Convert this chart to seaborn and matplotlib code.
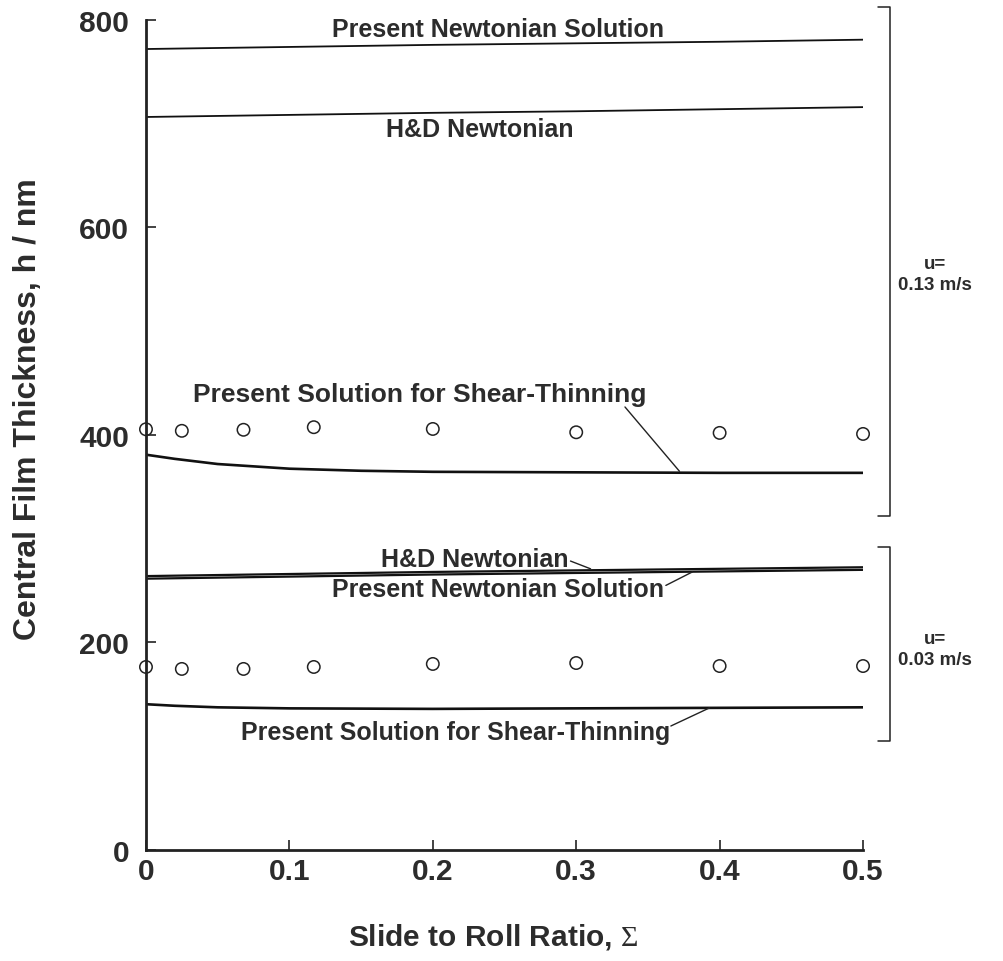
import numpy as np
import pandas as pd
import matplotlib
matplotlib.use("Agg")
import matplotlib.pyplot as plt
import matplotlib.transforms as mtransforms
import seaborn as sns

# ---------------- data ----------------
newt_x = [0.0, 0.1, 0.2, 0.3, 0.4, 0.5]
# u = 0.13 m/s
present_newt_hi = [772, 774, 776, 777.5, 779, 781]
hd_newt_hi = [706.5, 708.5, 710.5, 712, 714, 716]
# u = 0.03 m/s
hd_newt_lo = [264, 266, 268, 269.5, 271, 272.5]
present_newt_lo = [261.5, 263.5, 265.5, 267, 268.5, 270]

shear_hi_x = [0.0, 0.02, 0.05, 0.1, 0.15, 0.2, 0.3, 0.4, 0.5]
shear_hi_y = [381, 377, 372, 367.5, 365.5, 364.5, 364, 363.5, 363.5]
shear_lo_x = [0.0, 0.02, 0.05, 0.1, 0.2, 0.3, 0.4, 0.5]
shear_lo_y = [140.5, 139, 137.5, 136.5, 136, 136.5, 137, 137.5]

exp_x = [0.0, 0.025, 0.068, 0.117, 0.2, 0.3, 0.4, 0.5]
exp_hi = [405.5, 404, 405, 407.5, 405.8, 402.6, 402, 401]
exp_lo = [176.4, 174.5, 174.5, 176.4, 179.3, 180.2, 177.3, 177.3]

x_ticks = [0, 0.1, 0.2, 0.3, 0.4, 0.5]
x_tick_labels = ["0", "0.1", "0.2", "0.3", "0.4", "0.5"]
y_ticks = [0, 200, 400, 600, 800]
y_tick_labels = ["0", "200", "400", "600", "800"]

# ---------------- styling ----------------
sns.set_style("ticks")
plt.rcParams["font.family"] = ["Liberation Sans", "DejaVu Sans"]
plt.rcParams["font.weight"] = "bold"
plt.rcParams["mathtext.fontset"] = "custom"
plt.rcParams["mathtext.rm"] = "Liberation Serif:weight=normal"
plt.rcParams["mathtext.default"] = "rm"

TXT = "#2c2c2c"

fig = plt.figure(figsize=(10.04, 9.62), dpi=100)
ax = fig.add_axes([0.1454, 0.1154, 0.7142, 0.8628])

def line(x, y, lw=1.3):
    df = pd.DataFrame({"x": x, "y": y})
    sns.lineplot(data=df, x="x", y="y", ax=ax, color="#111111", lw=lw,
                 estimator=None, sort=False)

line(newt_x, present_newt_hi, 1.3)
line(newt_x, hd_newt_hi, 1.3)
line(newt_x, hd_newt_lo, 1.6)
line(newt_x, present_newt_lo, 1.6)
line(shear_hi_x, shear_hi_y, 1.9)
line(shear_lo_x, shear_lo_y, 1.9)

for yy in (exp_hi, exp_lo):
    df = pd.DataFrame({"x": exp_x, "y": yy})
    sns.scatterplot(data=df, x="x", y="y", ax=ax, marker="o", s=80,
                    facecolor="none", edgecolor="#222222", linewidth=1.1,
                    clip_on=False, zorder=5)

ax.set_xlim(0, 0.5)
ax.set_ylim(0, 800)
ax.set_xticks(x_ticks)
ax.set_xticklabels(x_tick_labels)
ax.set_yticks(y_ticks)
ax.set_yticklabels(y_tick_labels)

for s in ("top", "right"):
    ax.spines[s].set_visible(False)
for s in ("left", "bottom"):
    ax.spines[s].set_linewidth(2.0)
    ax.spines[s].set_color("#222222")

ax.tick_params(axis="both", direction="in", length=7, width=1.2,
               colors="#222222", labelcolor=TXT, labelsize=21.5)
ax.tick_params(axis="y", pad=12)
ax.tick_params(axis="x", pad=5)
for lab in ax.get_xticklabels() + ax.get_yticklabels():
    lab.set_fontweight("bold")

ax.set_xlabel(r"Slide to Roll Ratio, $\Sigma$", fontsize=21.5,
              fontweight="bold", color=TXT)
ax.set_ylabel("Central Film Thickness, h / nm", fontsize=23,
              fontweight="bold", color=TXT)
ax.xaxis.set_label_coords(0.484, -0.086)
ax.yaxis.set_label_coords(-0.144, 0.5325)

# ---------------- annotations ----------------
ann_fs = 18
def label(x, y, s, fs=ann_fs):
    ax.text(x, y, s, ha="center", va="center", fontsize=fs,
            fontweight="bold", color=TXT)

def leader(p0, p1):
    ax.annotate("", xy=p1, xytext=p0,
                arrowprops=dict(arrowstyle="-", lw=1.0, color="#222222",
                                shrinkA=0, shrinkB=0))

label(0.2455, 791, "Present Newtonian Solution")
label(0.233, 695, "H&D Newtonian")
label(0.191, 439.5, "Present Solution for Shear-Thinning", 19)
leader((0.334, 427), (0.372, 365))

label(0.229, 280.5, "H&D Newtonian")
leader((0.296, 278.5), (0.31, 271))
label(0.2455, 251.6, "Present Newtonian Solution")
leader((0.3625, 255), (0.381, 268))
label(0.216, 113.7, "Present Solution for Shear-Thinning", 18)
leader((0.366, 119.5), (0.393, 137))

# ---------------- velocity brackets ----------------
trans = mtransforms.blended_transform_factory(ax.transAxes, ax.transData)
for (top, bot, txt_y, txt) in [(812.5, 322, 555, "u=\n0.13 m/s"),
                                (292, 105, 194, "u=\n0.03 m/s")]:
    ax.plot([1.021, 1.038, 1.038, 1.021], [top, top, bot, bot],
            transform=trans, color="#222222", lw=1.1, clip_on=False)
    ax.text(1.100, txt_y, txt, transform=trans, ha="center", va="center",
            fontsize=13.5, fontweight="bold", color=TXT, linespacing=1.3)

fig.savefig("out.png", dpi=100, facecolor="white")
